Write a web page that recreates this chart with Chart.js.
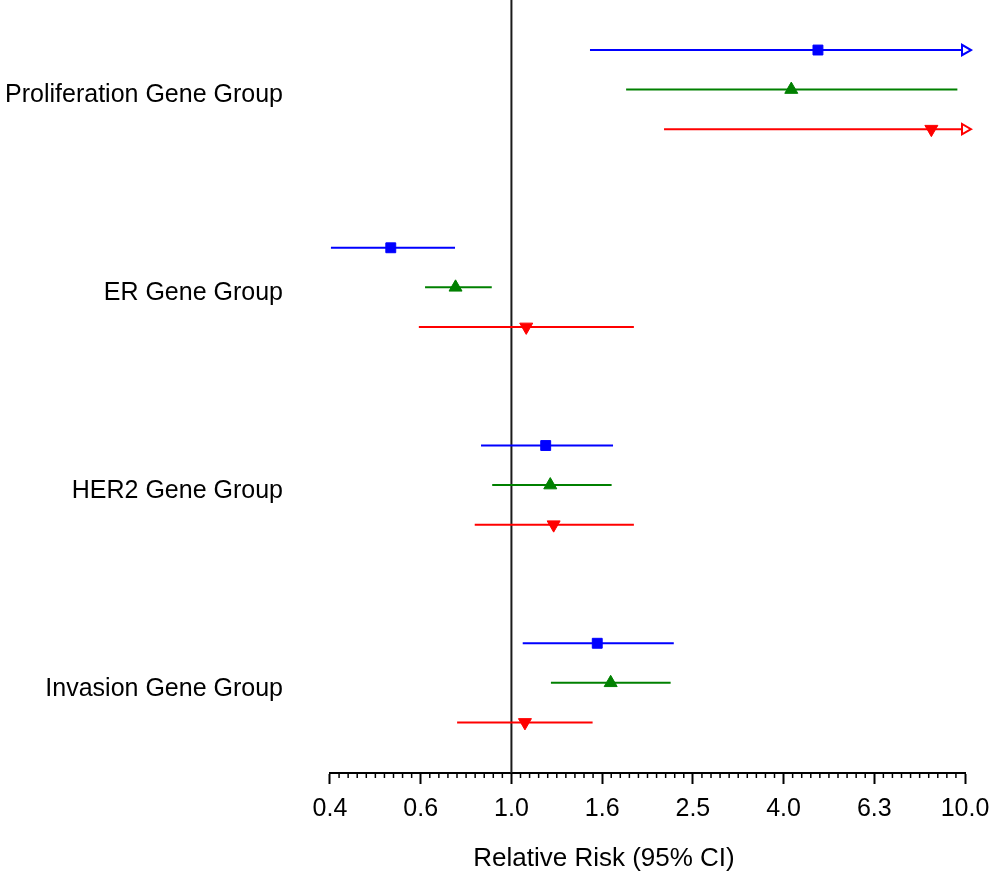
<!DOCTYPE html>
<html>
<head>
<meta charset="utf-8">
<script src="https://cdn.jsdelivr.net/npm/chart.js@4.4.0/dist/chart.umd.min.js"></script>
<style>
  body { margin: 0; background: #fff; }
  canvas { display: block; }
</style>
</head>
<body>
<canvas id="grafico" width="1004" height="878"></canvas>
<script>
// Grupos de genes (de arriba hacia abajo)
const groups = ['Proliferation Gene Group', 'ER Gene Group', 'HER2 Gene Group', 'Invasion Gene Group'];

// Riesgo relativo y IC 95% por serie (azul, verde, rojo)
const blueRR    = [4.74, 0.542, 1.19, 1.546];
const blueLow   = [1.49, 0.40, 0.857, 1.059];
const blueHigh  = [11, 0.751, 1.675, 2.28];

const greenRR   = [4.14, 0.753, 1.218, 1.655];
const greenLow  = [1.79, 0.645, 0.907, 1.222];
const greenHigh = [9.62, 0.905, 1.663, 2.244];

const redRR     = [8.43, 1.078, 1.239, 1.071];
const redLow    = [2.17, 0.625, 0.830, 0.759];
const redHigh   = [11, 1.862, 1.862, 1.51];

// Eje X (escala logarítmica)
const tickValues = [0.398, 0.631, 1.0, 1.585, 2.512, 3.981, 6.31, 10.0];
const tickLabels = ['0.4', '0.6', '1.0', '1.6', '2.5', '4.0', '6.3', '10.0'];
const xMin = 0.398107;
const xMax = 10;

const FONT = '"Liberation Sans", Arial, sans-serif';

const series = [
  { color: '#0000ff', rr: blueRR, low: blueLow, high: blueHigh, style: 'rect', rot: 0, radius: 7 },
  { color: '#008000', rr: greenRR, low: greenLow, high: greenHigh, style: 'triangle', rot: 0, radius: 7.5 },
  { color: '#ff0000', rr: redRR, low: redLow, high: redHigh, style: 'triangle', rot: 180, radius: 7.5 }
];

// fila de cada serie dentro de su grupo
function fila(g, s) { return g * 5 + s; }

const datasets = [];

// Marcadores (encima)
series.forEach((s, si) => {
  datasets.push({
    data: s.rr.map((v, g) => ({ x: v, y: fila(g, si) })),
    pointStyle: s.style,
    rotation: s.rot,
    pointRadius: s.radius,
    backgroundColor: s.color,
    borderColor: s.color,
    borderWidth: 1,
    order: 0
  });
  // Flechas cuando el IC supera el eje
  const flechas = [];
  s.high.forEach((h, g) => { if (h > xMax) flechas.push({ x: xMax, y: fila(g, si) }); });
  if (flechas.length) {
    datasets.push({
      data: flechas,
      pointStyle: 'triangle',
      rotation: 90,
      pointRadius: 6,
      backgroundColor: '#ffffff',
      borderColor: s.color,
      borderWidth: 2,
      clip: false,
      order: 0
    });
  }
});

// Intervalos de confianza
series.forEach((s, si) => {
  s.rr.forEach((v, g) => {
    datasets.push({
      data: [{ x: s.low[g], y: fila(g, si) }, { x: s.high[g], y: fila(g, si) }],
      showLine: true,
      borderColor: s.color,
      borderWidth: 2,
      pointRadius: 0,
      order: 1
    });
  });
});

// Línea de referencia en RR = 1
datasets.push({
  data: [{ x: 1, y: -1.265 }, { x: 1, y: 18.28 }],
  showLine: true,
  borderColor: '#1a1a1a',
  borderWidth: 2,
  pointRadius: 0,
  order: 2
});

// Marcas menores y título del eje
const extras = {
  id: 'extras',
  afterDraw(chart) {
    const ctx = chart.ctx;
    const x = chart.scales.x;
    const base = chart.chartArea.bottom;
    ctx.save();
    ctx.strokeStyle = '#000';
    ctx.lineWidth = 1.5;
    for (let k = 1; k < 70; k++) {
      if (k % 10 === 0) continue;
      const px = x.getPixelForValue(Math.pow(10, -0.4 + k * 0.02));
      ctx.beginPath();
      ctx.moveTo(px, base);
      ctx.lineTo(px, base + 5);
      ctx.stroke();
    }
    ctx.fillStyle = '#000';
    ctx.font = '26px ' + FONT;
    ctx.textAlign = 'center';
    ctx.textBaseline = 'middle';
    ctx.fillText('Relative Risk (95% CI)', 604, 859);
    ctx.restore();
  }
};

const ctx = document.getElementById('grafico').getContext('2d');
new Chart(ctx, {
  type: 'scatter',
  data: { datasets },
  options: {
    responsive: false,
    animation: false,
    layout: { autoPadding: false, padding: { left: 0, right: 39, top: 0, bottom: 0 } },
    plugins: { legend: { display: false }, tooltip: { enabled: false } },
    scales: {
      x: {
        type: 'logarithmic',
        min: xMin,
        max: xMax,
        bounds: 'data',
        afterBuildTicks: scale => { scale.ticks = tickValues.map(v => ({ value: v })); },
        afterFit: scale => { scale.height = 105; },
        ticks: {
          callback: (v, i) => tickLabels[i],
          font: { family: FONT, size: 25 },
          color: '#000',
          padding: 10,
          maxRotation: 0,
          autoSkip: false
        },
        grid: { drawOnChartArea: false, drawTicks: true, tickLength: 11, tickWidth: 2, tickColor: '#000' },
        border: { display: true, color: '#000', width: 2 }
      },
      y: {
        type: 'linear',
        min: -1.265,
        max: 18.28,
        reverse: true,
        bounds: 'data',
        afterBuildTicks: scale => { scale.ticks = groups.map((_, g) => ({ value: g * 5 + 1.15 })); },
        afterFit: scale => {
          scale.width = 330;
          scale.paddingTop = 0;
          scale.paddingBottom = 0;
        },
        ticks: {
          callback: (v, i) => groups[i],
          font: { family: FONT, size: 25 },
          color: '#000',
          padding: 47,
          autoSkip: false
        },
        grid: { display: false, drawTicks: false },
        border: { display: false }
      }
    }
  },
  plugins: [extras]
});
</script>
</body>
</html>
